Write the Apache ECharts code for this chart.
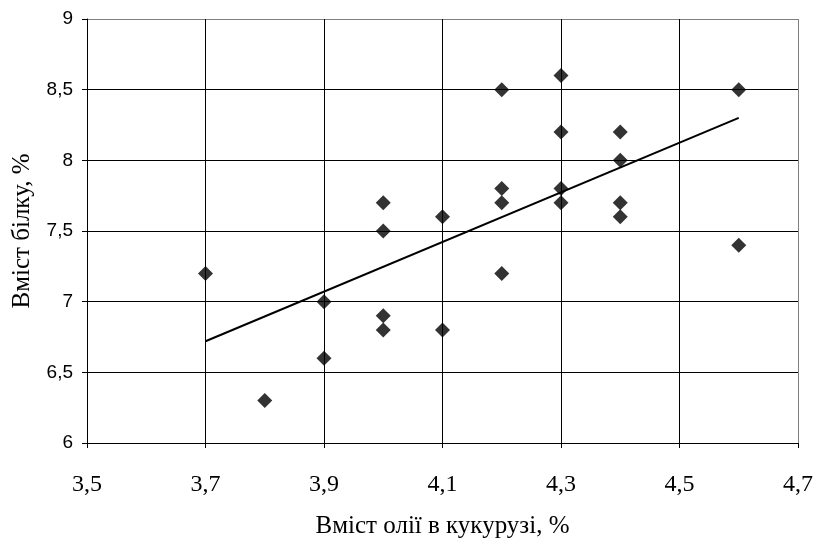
<!DOCTYPE html>
<html><head><meta charset="utf-8">
<script src="https://cdn.jsdelivr.net/npm/echarts@6/dist/echarts.min.js"></script>
<style>html,body{margin:0;padding:0;background:#fff}#c{width:816px;height:546px}</style>
</head><body><div id="c"></div>
<script>
const oilX = [3.7, 3.8, 3.9, 3.9, 4.0, 4.0, 4.0, 4.0, 4.1, 4.1, 4.2, 4.2, 4.2, 4.2, 4.3, 4.3, 4.3, 4.3, 4.4, 4.4, 4.4, 4.4, 4.6, 4.6];
const proteinY = [7.2, 6.3, 7.0, 6.6, 7.7, 7.5, 6.9, 6.8, 7.6, 6.8, 8.5, 7.8, 7.7, 7.2, 8.6, 8.2, 7.8, 7.7, 8.2, 8.0, 7.7, 7.6, 8.5, 7.4];
const trendX = [3.7, 4.6];
const trendY = [6.72, 8.30];
const xTicks = [3.5, 3.7, 3.9, 4.1, 4.3, 4.5, 4.7];
const yTicks = [6, 6.5, 7, 7.5, 8, 8.5, 9];
const xTitle = 'Вміст олії в кукурузі, %';
const yTitle = 'Вміст білку, %';

const fmt = v => String(Math.round(v * 10) / 10).replace('.', ',');
const lineColors = n => Array.from({length: n}, (_, i) => i === n - 1 ? '#808080' : '#000');

const chart = echarts.init(document.getElementById('c'), null, {renderer: 'canvas'});
chart.setOption({
  animation: false,
  backgroundColor: '#fff',
  grid: {left: 87, right: 17, top: 19, bottom: 103, containLabel: false},
  xAxis: {
    type: 'value', min: xTicks[0], max: xTicks[xTicks.length - 1],
    name: xTitle, nameLocation: 'middle', nameGap: 71,
    nameTextStyle: {fontFamily: 'Liberation Serif', fontSize: 25, color: '#000'},
    axisLine: {show: true, lineStyle: {color: '#000', width: 1}},
    axisTick: {show: true, length: 5, inside: false, lineStyle: {color: '#000'}, customValues: xTicks},
    axisLabel: {customValues: xTicks, formatter: fmt, margin: 30, fontFamily: 'Liberation Serif', fontSize: 24, color: '#000'},
    splitLine: {show: true, lineStyle: {color: lineColors(xTicks.length), width: 1}}
  },
  yAxis: {
    type: 'value', min: yTicks[0], max: yTicks[yTicks.length - 1], interval: 0.5,
    name: yTitle, nameLocation: 'middle', nameGap: 52, nameRotate: 90,
    nameTextStyle: {fontFamily: 'Liberation Serif', fontSize: 25, color: '#000'},
    axisLine: {show: true, lineStyle: {color: '#000', width: 1}},
    axisTick: {show: true, length: 5, inside: false, lineStyle: {color: '#000'}},
    axisLabel: {formatter: fmt, margin: 14, fontFamily: 'Arial', fontSize: 19, color: '#000'},
    splitLine: {show: true, lineStyle: {color: lineColors(yTicks.length), width: 1}}
  },
  series: [
    {
      type: 'scatter', symbol: 'diamond', symbolSize: 15,
      itemStyle: {color: '#000'},
      data: oilX.map((x, i) => [x, proteinY[i]]),
      z: 3
    },
    {
      type: 'line', symbol: 'none', lineStyle: {color: '#000', width: 2},
      data: trendX.map((x, i) => [x, trendY[i]]),
      z: 2
    }
  ]
});
</script>
</body></html>
